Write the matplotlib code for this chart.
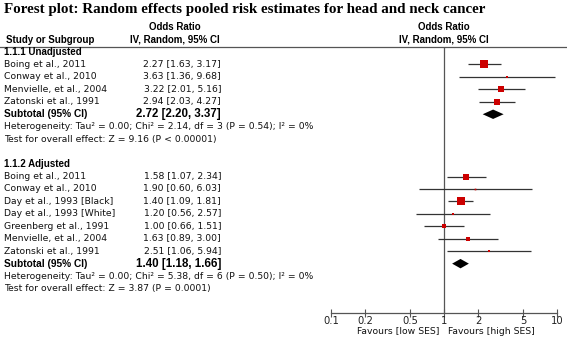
import matplotlib
matplotlib.use('Agg')
import matplotlib.pyplot as plt
import numpy as np

title = 'Forest plot: Random effects pooled risk estimates for head and neck cancer'

# subgroup 1.1.1 Unadjusted
unadj_studies = ['Boing et al., 2011', 'Conway et al., 2010',
                 'Menvielle, et al., 2004', 'Zatonski et al., 1991']
unadj_or = [2.27, 3.63, 3.22, 2.94]
unadj_lo = [1.63, 1.36, 2.01, 2.03]
unadj_hi = [3.17, 9.68, 5.16, 4.27]
unadj_weight = [41.4, 4.8, 20.6, 33.2]   # % weight, estimated from square sizes
unadj_total = [2.72, 2.20, 3.37]
unadj_het = 'Heterogeneity: Tau² = 0.00; Chi² = 2.14, df = 3 (P = 0.54); I² = 0%'
unadj_test = 'Test for overall effect: Z = 9.16 (P < 0.00001)'

# subgroup 1.1.2 Adjusted
adj_studies = ['Boing et al., 2011', 'Conway et al., 2010', 'Day et al., 1993 [Black]',
               'Day et al., 1993 [White]', 'Greenberg et al., 1991',
               'Menvielle, et al., 2004', 'Zatonski et al., 1991']
adj_or = [1.58, 1.90, 1.40, 1.20, 1.00, 1.63, 2.51]
adj_lo = [1.07, 0.60, 1.09, 0.56, 0.66, 0.89, 1.06]
adj_hi = [2.34, 6.03, 1.81, 2.57, 1.51, 3.00, 5.94]
adj_weight = [19.0, 2.2, 45.2, 5.0, 16.9, 7.9, 3.9]
adj_total = [1.40, 1.18, 1.66]
adj_het = 'Heterogeneity: Tau² = 0.00; Chi² = 5.38, df = 6 (P = 0.50); I² = 0%'
adj_test = 'Test for overall effect: Z = 3.87 (P = 0.0001)'

xticks = [0.1, 0.2, 0.5, 1, 2, 5, 10]
xticklabels = ['0.1', '0.2', '0.5', '1', '2', '5', '10']

W, H = 567, 337
fig = plt.figure(figsize=(W / 100, H / 100), dpi=100)

# text layer in pixel coordinates
tx = fig.add_axes([0, 0, 1, 1])
tx.set_xlim(0, W)
tx.set_ylim(H, 0)
tx.axis('off')

# forest plot axes
ax_left, ax_right, ax_top, ax_bot = 331, 557, 46.5, 313
ax = fig.add_axes([ax_left / W, 1 - ax_bot / H, (ax_right - ax_left) / W, (ax_bot - ax_top) / H])
ax.set_xscale('log')
ax.set_xlim(0.1, 10)
ax.set_ylim(ax_bot, ax_top)
ax.patch.set_alpha(0)
for s in ['top', 'left', 'right']:
    ax.spines[s].set_visible(False)
ax.spines['bottom'].set_color('#555555')
ax.spines['bottom'].set_linewidth(0.9)
ax.set_yticks([])
ax.set_xticks(xticks)
ax.set_xticklabels(xticklabels)
ax.minorticks_off()
ax.tick_params(axis='x', direction='inout', length=6, width=0.8, color='#555555',
               labelsize=7.2, pad=-1, labelcolor='#222222')
ax.axvline(1, color='#555555', lw=0.9)

sans = 'DejaVu Sans'
bold_sans = 'Liberation Sans'
fs = 6.7
fsb = 7.0
row0, step = 52, 12.45
col_name, col_est = 4, 221
red = '#cc0000'

def rowy(r):
    return row0 + r * step

tx.text(4, 9, title, family='Liberation Serif', weight='bold', fontsize=10.8, va='center')
tx.plot([0, W], [ax_top, ax_top], color='#555555', lw=0.9)
tx.text(175, 27, 'Odds Ratio', family=bold_sans, weight='bold', fontsize=fsb, ha='center', va='center')
tx.text(175, 40, 'IV, Random, 95% CI', family=bold_sans, weight='bold', fontsize=fsb, ha='center', va='center')
tx.text(6, 40, 'Study or Subgroup', family=bold_sans, weight='bold', fontsize=fsb, va='center')
tx.text(444, 27, 'Odds Ratio', family=bold_sans, weight='bold', fontsize=fsb, ha='center', va='center')
tx.text(444, 40, 'IV, Random, 95% CI', family=bold_sans, weight='bold', fontsize=fsb, ha='center', va='center')

def draw_group(r, header, studies, ors, los, his, weights, total, het, test):
    tx.text(col_name, rowy(r), header, family=bold_sans, weight='bold', fontsize=fsb, va='center')
    for i, name in enumerate(studies):
        y = rowy(r + 1 + i)
        tx.text(col_name, y, name, family=sans, fontsize=fs, va='center', color='#111111')
        tx.text(col_est, y, f'{ors[i]:.2f} [{los[i]:.2f}, {his[i]:.2f}]', family=sans,
                fontsize=fs, ha='right', va='center', color='#111111')
        ax.plot([los[i], his[i]], [y, y], color='#333333', lw=0.9, solid_capstyle='butt')
        side_px = 1.15 * np.sqrt(weights[i])
        ax.plot(ors[i], y, marker='s', ms=side_px * 0.72, color=red, mec=red, mew=0)
    y = rowy(r + 1 + len(studies))
    tx.text(col_name, y, 'Subtotal (95% CI)', family=bold_sans, weight='bold', fontsize=fsb + 0.3, va='center')
    tx.text(col_est, y, f'{total[0]:.2f} [{total[1]:.2f}, {total[2]:.2f}]', family=bold_sans,
            weight='bold', fontsize=8.3, ha='right', va='center')
    ax.fill([total[1], total[0], total[2], total[0]], [y, y - 4.7, y, y + 4.7], color='black', lw=0)
    tx.text(col_name, rowy(r + 2 + len(studies)), het, family=sans, fontsize=fs, va='center', color='#111111')
    tx.text(col_name, rowy(r + 3 + len(studies)), test, family=sans, fontsize=fs, va='center', color='#111111')

draw_group(0, '1.1.1 Unadjusted', unadj_studies, unadj_or, unadj_lo, unadj_hi, unadj_weight,
           unadj_total, unadj_het, unadj_test)
draw_group(9, '1.1.2 Adjusted', adj_studies, adj_or, adj_lo, adj_hi, adj_weight,
           adj_total, adj_het, adj_test)

tx.text(439, 331, 'Favours [low SES]', family=sans, fontsize=fs, ha='right', va='center', color='#111111')
tx.text(448, 331, 'Favours [high SES]', family=sans, fontsize=fs, ha='left', va='center', color='#111111')

fig.savefig('out.png', dpi=100)
